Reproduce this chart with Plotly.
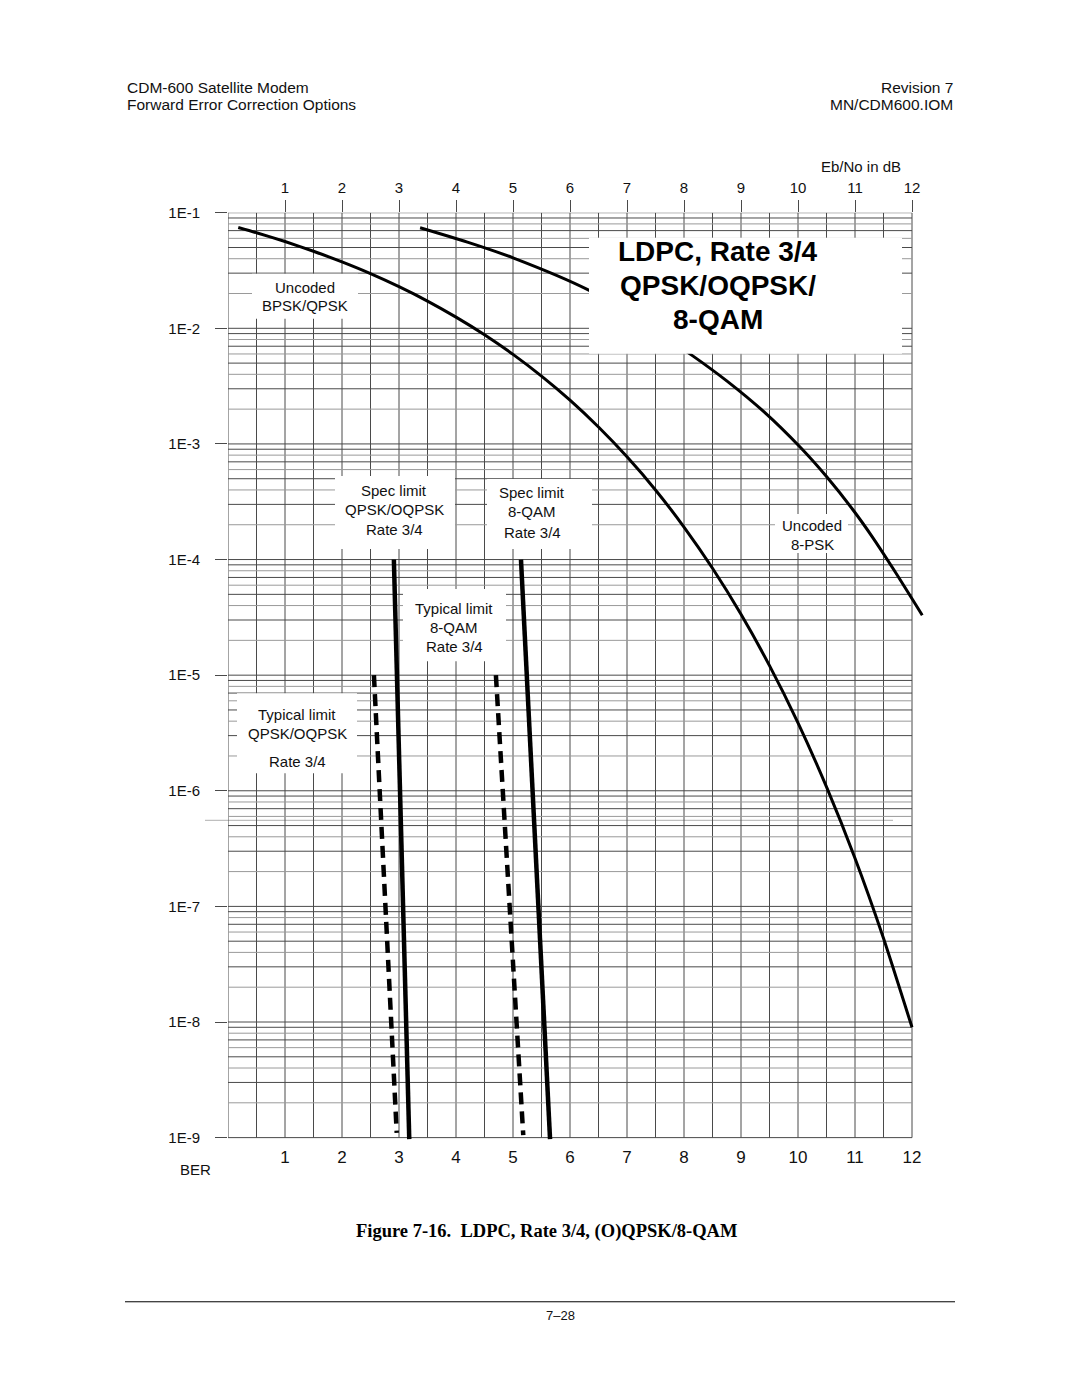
import plotly.graph_objects as go

W, H = 1080, 1397

# ---------------- data ----------------
bpsk_ebno = [0.18, 0.5, 1.0, 1.5, 2.0, 2.5, 3.0, 3.5, 4.0, 4.5, 5.0, 5.5, 6.0,
             6.5, 7.0, 7.5, 8.0, 8.5, 9.0, 9.5, 10.0, 10.5, 11.0, 11.5, 12.0]
bpsk_ber = [0.0745, 0.0671, 0.0563, 0.0464, 0.0375, 0.0297, 0.0229, 0.0172,
            0.0125, 0.0088, 0.00595, 0.00386, 0.00239, 0.0014, 0.000773,
            0.0004, 0.000191, 8.4e-5, 3.36e-5, 1.21e-5, 3.87e-6, 1.08e-6,
            2.61e-7, 5.3e-8, 9.0e-9]

psk8_ebno = [3.37, 4.2, 5.0, 6.32, 7.2, 8.16, 8.75, 9.4, 10.04, 10.5,
             10.96, 11.3, 11.67, 12.18]
psk8_ber = [0.0741, 0.0556, 0.0407, 0.0215, 0.0120, 0.00575, 0.00351,
            0.0019, 0.000935, 0.000522, 0.000271, 0.000158, 8.32e-5, 3.3e-5]

spec_qpsk_ebno = [2.91, 3.18]
spec_qpsk_ber = [1e-4, 0.97e-9]
spec_8qam_ebno = [5.14, 5.65]
spec_8qam_ber = [1e-4, 0.97e-9]
typ_qpsk_ebno = [2.56, 2.96]
typ_qpsk_ber = [1e-5, 1.1e-9]
typ_8qam_ebno = [4.70, 5.18]
typ_8qam_ber = [1e-5, 1.05e-9]

ebno_ticks = [1, 2, 3, 4, 5, 6, 7, 8, 9, 10, 11, 12]
ebno_ticktext = ["1", "2", "3", "4", "5", "6", "7", "8", "9", "10", "11", "12"]
ber_ticks = [1e-1, 1e-2, 1e-3, 1e-4, 1e-5, 1e-6, 1e-7, 1e-8, 1e-9]
ber_ticktext = ["1E-1", "1E-2", "1E-3", "1E-4", "1E-5", "1E-6", "1E-7", "1E-8", "1E-9"]

grid_ebno = [0, 0.5, 1, 1.5, 2, 2.5, 3, 3.5, 4, 4.5, 5, 5.5, 6, 6.5, 7, 7.5,
             8, 8.5, 9, 9.5, 10, 10.5, 11, 11.5, 12]
grid_mult = [1, 2, 3, 4, 5, 6, 7, 8, 9]
grid_decades = [1e-9, 1e-8, 1e-7, 1e-6, 1e-5, 1e-4, 1e-3, 1e-2]

# ---------------- geometry ----------------
# vertical correction for the page capture (observed slight vertical squeeze)
SY, BY = 0.989, 8.5


def dy(t):
    return (t - BY) / SY


X0_PX, PX_PER_DB, XMAX = 228, 57.0, 12.3
Y_TOP, PX_PER_DEC = 212, 115.5
YLOW = -9.03

xdom = [X0_PX / W, (X0_PX + XMAX * PX_PER_DB) / W]
ydom = [1 - dy(Y_TOP + (-1 - YLOW) * PX_PER_DEC) / H, 1 - dy(Y_TOP) / H]

FONT = "Liberation Sans, Arial, sans-serif"
SERIF = "Liberation Serif, Times New Roman, serif"
GRID_DARK = "#4a4a4a"
GRID_LIGHT = "#9a9a9a"

fig = go.Figure()

# grid (vertical)
vx, vy = [], []
for g in grid_ebno:
    vx += [g, g, None]
    vy += [1e-9, 1e-1, None]
fig.add_trace(go.Scatter(x=vx, y=vy, mode="lines", line=dict(color=GRID_DARK, width=1),
                         hoverinfo="skip", showlegend=False))
# grid (horizontal)
hx_d, hy_d, hx_l, hy_l = [], [], [], []
for d in grid_decades:
    for k in grid_mult:
        v = k * d
        if k % 2 == 1:
            hx_d += [0, 12, None]
            hy_d += [v, v, None]
        else:
            hx_l += [0, 12, None]
            hy_l += [v, v, None]
hx_d += [0, 12, None]
hy_d += [1e-1, 1e-1, None]
fig.add_trace(go.Scatter(x=hx_l, y=hy_l, mode="lines", line=dict(color=GRID_LIGHT, width=1),
                         hoverinfo="skip", showlegend=False))
fig.add_trace(go.Scatter(x=hx_d, y=hy_d, mode="lines", line=dict(color=GRID_DARK, width=1),
                         hoverinfo="skip", showlegend=False))

# curves
fig.add_trace(go.Scatter(x=bpsk_ebno, y=bpsk_ber, mode="lines", name="Uncoded BPSK/QPSK",
                         line=dict(color="black", width=3, shape="spline", smoothing=0.6)))
fig.add_trace(go.Scatter(x=psk8_ebno, y=psk8_ber, mode="lines", name="Uncoded 8-PSK",
                         line=dict(color="black", width=3, shape="spline", smoothing=0.8)))
fig.add_trace(go.Scatter(x=spec_qpsk_ebno, y=spec_qpsk_ber, mode="lines",
                         name="Spec limit QPSK/OQPSK", line=dict(color="black", width=4.5)))
fig.add_trace(go.Scatter(x=spec_8qam_ebno, y=spec_8qam_ber, mode="lines",
                         name="Spec limit 8-QAM", line=dict(color="black", width=4.5)))
fig.add_trace(go.Scatter(x=typ_qpsk_ebno, y=typ_qpsk_ber, mode="lines",
                         name="Typical limit QPSK/OQPSK",
                         line=dict(color="black", width=4.5, dash="12px,7px")))
fig.add_trace(go.Scatter(x=typ_8qam_ebno, y=typ_8qam_ber, mode="lines",
                         name="Typical limit 8-QAM",
                         line=dict(color="black", width=4.5, dash="12px,7px")))


def px(x):
    return x / W


def py(y):
    return 1 - dy(y) / H


shapes = []
# white label boxes (cover grid and curves)
boxes = [
    (252, 273, 358, 318),   # Uncoded BPSK/QPSK
    (335, 475, 455, 548),   # Spec QPSK
    (487, 478, 592, 548),   # Spec 8-QAM
    (403, 588, 506, 660),   # Typical 8-QAM
    (237, 692, 357, 772),   # Typical QPSK
    (775, 513, 848, 552),   # Uncoded 8-PSK
    (589, 237, 902, 353),   # Title box
]
for (x0, y0, x1, y1) in boxes:
    shapes.append(dict(type="rect", xref="paper", yref="paper",
                       x0=px(x0), x1=px(x1), y0=py(y1), y1=py(y0),
                       fillcolor="white", line=dict(width=0), layer="above"))
# stray scan line
shapes.append(dict(type="line", xref="paper", yref="paper", x0=px(205), x1=px(893),
                   y0=py(819), y1=py(819), line=dict(color="#b0b0b0", width=1), layer="below"))
# footer rule
shapes.append(dict(type="line", xref="paper", yref="paper", x0=px(125), x1=px(955),
                   y0=py(1300), y1=py(1300), line=dict(color="black", width=1)))

annotations = []


def ann(text, x, y, size=15, xanchor="center", yanchor="middle", family=FONT, color="#111"):
    annotations.append(dict(text=text, xref="paper", yref="paper", x=px(x), y=py(y),
                            xanchor=xanchor, yanchor=yanchor, showarrow=False,
                            font=dict(size=size, family=family, color=color)))


# header
ann("CDM-600 Satellite Modem", 125, 87, 15.5, "left")
ann("Forward Error Correction Options", 125, 104, 15.5, "left")
ann("Revision 7", 955, 87, 15.5, "right")
ann("MN/CDM600.IOM", 955, 104, 15.5, "right")

# chart texts
ann("Eb/No in dB", 903, 166, 15, "right")
ann("BER", 195, 1168, 15)
ann("Uncoded", 305, 287, 15)
ann("BPSK/QPSK", 305, 305, 15)
ann("Spec limit", 394, 490, 15)
ann("QPSK/OQPSK", 394, 509, 15)
ann("Rate 3/4", 394, 528, 15)
ann("Spec limit", 532, 492, 15)
ann("8-QAM", 532, 511, 15)
ann("Rate 3/4", 532, 531, 15)
ann("Typical limit", 454, 607, 15)
ann("8-QAM", 454, 626, 15)
ann("Rate 3/4", 454, 645, 15)
ann("Typical limit", 297, 713, 15)
ann("QPSK/OQPSK", 297, 732, 15)
ann("Rate 3/4", 297, 760, 15)
ann("Uncoded", 812, 524, 15)
ann("8-PSK", 812, 543, 15)

# title
ann("<b>LDPC, Rate 3/4</b>", 718, 251, 28, color="black")
ann("<b>QPSK/OQPSK/</b>", 718, 285, 28, color="black")
ann("<b>8-QAM</b>", 718, 319, 28, color="black")

# caption & footer
ann("<b>Figure 7-16.  LDPC, Rate 3/4, (O)QPSK/8-QAM</b>", 546, 1230, 18.5,
    family=SERIF, color="black")
ann("7\u201328", 560, 1314, 13)

fig.update_layout(
    width=W, height=H,
    margin=dict(l=0, r=0, t=0, b=0),
    paper_bgcolor="white", plot_bgcolor="white",
    showlegend=False,
    shapes=shapes,
    annotations=annotations,
    xaxis=dict(domain=xdom, range=[0, XMAX], side="top", anchor="y",
               tickmode="array", tickvals=ebno_ticks, ticktext=ebno_ticktext,
               ticks="outside", ticklen=12, tickwidth=1, tickcolor=GRID_DARK,
               ticklabelstandoff=1,
               tickfont=dict(size=15, family=FONT, color="#111"),
               showgrid=False, zeroline=False, showline=False, fixedrange=True),
    xaxis2=dict(range=[0, XMAX], overlaying="x", side="bottom", anchor="y",
                tickmode="array", tickvals=ebno_ticks, ticktext=ebno_ticktext,
                ticks="", ticklabelstandoff=4,
                tickfont=dict(size=17, family=FONT, color="#111"),
                showgrid=False, zeroline=False, showline=False, fixedrange=True),
    yaxis=dict(domain=ydom, type="log", range=[YLOW, -1], anchor="x",
               tickmode="array", tickvals=ber_ticks, ticktext=ber_ticktext,
               ticks="outside", ticklen=12, tickwidth=1, tickcolor=GRID_DARK,
               ticklabelstandoff=12,
               tickfont=dict(size=15, family=FONT, color="#111"),
               showgrid=False, zeroline=False, showline=False, fixedrange=True),
)

# invisible trace to activate the bottom axis
fig.add_trace(go.Scatter(x=[0], y=[1e-5], xaxis="x2", yaxis="y", mode="markers",
                         marker=dict(opacity=0), hoverinfo="skip", showlegend=False))

fig.write_html("out.html")
